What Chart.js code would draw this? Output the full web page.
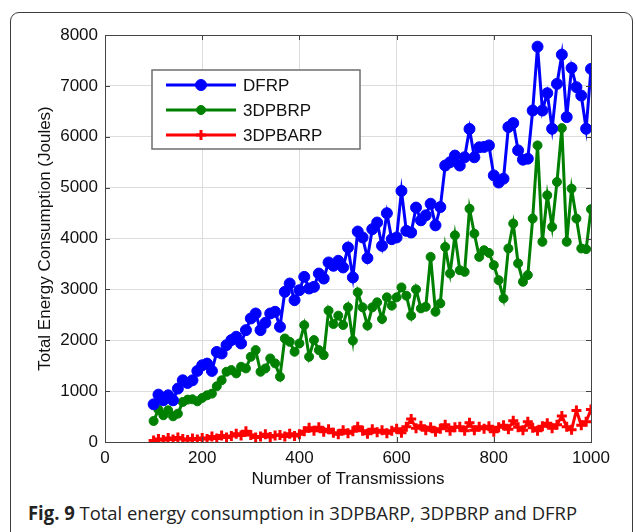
<!DOCTYPE html>
<html>
<head>
<meta charset="utf-8">
<script src="https://cdn.jsdelivr.net/npm/chart.js@4.4.0/dist/chart.umd.min.js"></script>
<style>
  body { margin: 0; background: #fff; width: 635px; height: 532px; overflow: hidden; position: relative; }
  #frame { position: absolute; left: 10px; top: 12px; width: 623px; height: 545px; border: 1.5px solid #3c3c3c; border-radius: 9px; box-sizing: border-box; }
  #wrap { position: absolute; left: 0; top: 0; width: 635px; height: 492px; }
  #caption { position: absolute; left: 28px; top: 500px; font-family: "Open Sans", "Liberation Sans", sans-serif; font-size: 19px; color: #222; white-space: nowrap; transform-origin: 0 0; }
  #caption b { font-weight: 700; }
</style>
</head>
<body>
<div id="frame"></div>
<div id="wrap"><canvas id="energyChart"></canvas></div>
<div id="caption"><b>Fig. 9</b> Total energy consumption in 3DPBARP, 3DPBRP and DFRP</div>
<script>
// --- data ---
const transmissions = [100, 110, 120, 130, 140, 150, 160, 170, 180, 190,
    200, 210, 220, 230, 240, 250, 260, 270, 280, 290,
    300, 310, 320, 330, 340, 350, 360, 370, 380, 390,
    400, 410, 420, 430, 440, 450, 460, 470, 480, 490,
    500, 510, 520, 530, 540, 550, 560, 570, 580, 590,
    600, 610, 620, 630, 640, 650, 660, 670, 680, 690,
    700, 710, 720, 730, 740, 750, 760, 770, 780, 790,
    800, 810, 820, 830, 840, 850, 860, 870, 880, 890,
    900, 910, 920, 930, 940, 950, 960, 970, 980, 990, 1000];

const dfrp = [741, 931, 820, 918, 820, 1050, 1213, 1160, 1213, 1397,
    1508, 1541, 1397, 1770, 1740, 1904, 2003, 2068, 1937, 2199,
    2428, 2526, 2199, 2343, 2526, 2559, 2264, 2952, 3115, 2788,
    2984, 3246, 3017, 3050, 3311, 3213, 3529, 3464, 3562, 3431,
    3823, 3235, 4137, 4020, 3614, 4183, 4314, 3856, 4497, 3987,
    4020, 4935, 4150, 4118, 4608, 4357, 4455, 4683, 4259, 4618,
    5434, 5500, 5630, 5434, 5597, 6153, 5597, 5793, 5800, 5830,
    5240, 5100, 5176, 6190, 6268, 5732, 5549, 5569, 6516, 7771,
    6516, 6856, 6157, 7039, 7614, 6386, 7353, 6974, 6810, 6157, 7333];

const dpbrp = [413, 636, 525, 623, 505, 557, 787, 833, 839, 800,
    866, 918, 951, 1095, 1213, 1381, 1414, 1348, 1479, 1446,
    1675, 1806, 1381, 1446, 1642, 1545, 1283, 2035, 1970, 1774,
    1937, 2297, 1675, 2003, 1806, 1708, 2582, 2320, 2484, 2300,
    2647, 1993, 2941, 2647, 2288, 2647, 2745, 2418, 2843, 2680,
    2843, 3039, 2876, 2484, 3000, 2626, 2658, 3638, 2560, 2724,
    3834, 3312, 4063, 3377, 3344, 4585, 4095, 3638, 3769, 3717,
    3475, 3181, 2822, 3804, 4294, 3510, 3150, 3281, 4392, 5830,
    3935, 4850, 4229, 5111, 6170, 3935, 4980, 4392, 3804, 3791, 4575];

const dpbarp = [30, 60, 40, 80, 50, 90, 60, 40, 70, 50,
    80, 60, 110, 70, 130, 90, 120, 160, 130, 210,
    140, 90, 110, 150, 100, 130, 140, 110, 160, 120,
    150, 210, 280, 220, 290, 200, 250, 180, 150, 230,
    170, 210, 300, 220, 160, 250, 190, 230, 170, 220,
    260, 180, 300, 450, 270, 320, 230, 290, 200, 260,
    340, 220, 290, 300, 220, 380, 230, 300, 260, 310,
    200, 290, 330, 250, 420, 290, 230, 400, 280, 220,
    310, 370, 270, 340, 510, 300, 240, 620, 330, 400, 640];

const seriesLabels = ['DFRP', '3DPBRP', '3DPBARP'];
const xTicks = [0, 200, 400, 600, 800, 1000];
const yTicks = [0, 1000, 2000, 3000, 4000, 5000, 6000, 7000, 8000];

const FONT = '"Liberation Sans", Arial, sans-serif';
const AXIS_COLOR = '#444';

// MATLAB style box: top/right edges and inward tick marks
const boxPlugin = {
    id: 'boxPlugin',
    afterDatasetsDraw(chart) {
        const { ctx, chartArea: a, scales } = chart;
        ctx.save();
        ctx.strokeStyle = AXIS_COLOR;
        ctx.lineWidth = 1;
        ctx.strokeRect(a.left + 0.5, a.top + 0.5, a.right - a.left, a.bottom - a.top);
        const len = 5;
        ctx.beginPath();
        xTicks.forEach(v => {
            const px = Math.round(scales.x.getPixelForValue(v)) + 0.5;
            ctx.moveTo(px, a.bottom); ctx.lineTo(px, a.bottom - len);
            ctx.moveTo(px, a.top); ctx.lineTo(px, a.top + len);
        });
        yTicks.forEach(v => {
            const py = Math.round(scales.y.getPixelForValue(v)) + 0.5;
            ctx.moveTo(a.left, py); ctx.lineTo(a.left + len, py);
            ctx.moveTo(a.right, py); ctx.lineTo(a.right - len, py);
        });
        ctx.stroke();
        ctx.restore();
    },
    afterDraw(chart) {
        // legend box inside the plot, upper left
        const { ctx } = chart;
        const box = { x: 152, y: 70, w: 208, h: 79 };
        ctx.save();
        ctx.fillStyle = '#fff';
        ctx.fillRect(box.x, box.y, box.w, box.h);
        ctx.strokeStyle = '#6e6e6e';
        ctx.lineWidth = 1.5;
        ctx.strokeRect(box.x, box.y, box.w, box.h);
        ctx.font = '17px ' + FONT;
        ctx.textBaseline = 'middle';
        chart.data.datasets.forEach((ds, i) => {
            const y = box.y + 15 + i * 25;
            ctx.strokeStyle = ds.borderColor;
            ctx.lineWidth = ds.borderWidth;
            ctx.beginPath();
            ctx.moveTo(box.x + 14, y);
            ctx.lineTo(box.x + 84, y);
            ctx.stroke();
            ctx.fillStyle = ds.backgroundColor;
            ctx.lineWidth = ds.pointBorderWidth;
            Chart.helpers.drawPoint(ctx, {
                pointStyle: ds.pointStyle,
                radius: ds.pointRadius,
                borderWidth: ds.pointBorderWidth
            }, box.x + 49, y);
            ctx.fillStyle = '#111';
            ctx.fillText(ds.label, box.x + 91, y + 1);
        });
        ctx.restore();
    }
};

function makePoints(values) {
    return values.map((v, i) => ({ x: transmissions[i], y: v }));
}

const datasets = [
    { label: seriesLabels[0], data: makePoints(dfrp), color: '#0000ff', style: 'circle', r: 5.5, bw: 1 },
    { label: seriesLabels[1], data: makePoints(dpbrp), color: '#008000', style: 'circle', r: 4.5, bw: 1 },
    { label: seriesLabels[2], data: makePoints(dpbarp), color: '#ff0000', style: 'cross', r: 5, bw: 3 }
].map((d, i) => ({
    label: d.label,
    data: d.data,
    order: i,
    borderColor: d.color,
    backgroundColor: d.color,
    borderWidth: 3,
    pointStyle: d.style,
    pointRadius: d.r,
    pointBorderWidth: d.bw,
    pointBackgroundColor: d.color,
    pointBorderColor: d.color,
    tension: 0
}));

new Chart(document.getElementById('energyChart'), {
    type: 'line',
    data: { datasets },
    plugins: [boxPlugin],
    options: {
        responsive: true,
        maintainAspectRatio: false,
        animation: false,
        events: [],
        layout: { padding: { left: 35, top: 35, right: 44, bottom: 0 } },
        plugins: { legend: { display: false }, tooltip: { enabled: false } },
        scales: {
            x: {
                type: 'linear',
                min: 0,
                max: 1000,
                afterFit(scale) { scale.height = 50; },
                afterBuildTicks(scale) { scale.ticks = xTicks.map(v => ({ value: v })); },
                ticks: { color: '#111', font: { family: FONT, size: 17 }, padding: 6, maxRotation: 0, callback: v => String(v) },
                grid: { color: '#dcdcdc', lineWidth: 1, drawTicks: false },
                border: { display: true, color: AXIS_COLOR },
                title: { display: true, text: 'Number of Transmissions', color: '#111', font: { family: FONT, size: 17 }, padding: { top: 0, bottom: 2 } }
            },
            y: {
                type: 'linear',
                min: 0,
                max: 8000,
                afterFit(scale) { scale.width = 70; },
                afterBuildTicks(scale) { scale.ticks = yTicks.map(v => ({ value: v })); },
                ticks: { color: '#111', font: { family: FONT, size: 17 }, padding: 7, callback: v => String(v) },
                grid: { color: '#dcdcdc', lineWidth: 1, drawTicks: false },
                border: { display: true, color: AXIS_COLOR },
                title: { display: true, text: 'Total Energy Consumption (Joules)', color: '#111', font: { family: FONT, size: 17 }, padding: { top: 0, bottom: 0 } }
            }
        }
    }
});

// squeeze caption to the width it has in the figure
const cap = document.getElementById('caption');
cap.style.transform = 'scaleX(' + (549 / cap.offsetWidth) + ')';
</script>
</body>
</html>
